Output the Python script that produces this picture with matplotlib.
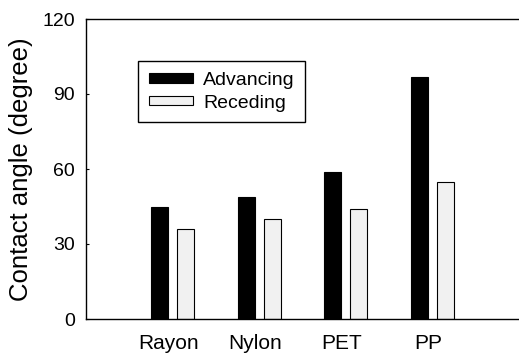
import matplotlib
matplotlib.use("Agg")
import matplotlib.pyplot as plt
import numpy as np

categories = ["Rayon", "Nylon", "PET", "PP"]
advancing = [45, 49, 59, 97]
receding = [36, 40, 44, 55]
yticks = [0, 30, 60, 90, 120]

plt.rcParams['font.family'] = ['Liberation Sans', 'DejaVu Sans']

fig = plt.figure(figsize=(5.19, 3.58), dpi=100)
ax = fig.add_axes([86/519, 39/358, 433/519, 300/358])

x = np.arange(1, len(categories) + 1)
w = 0.2
ax.bar(x - 0.15, advancing, w, color='black', edgecolor='black', linewidth=0.8, label='Advancing')
ax.bar(x + 0.15, receding, w, color='#f1f1f1', edgecolor='black', linewidth=0.8, label='Receding')

ax.set_xlim(0, 5)
ax.set_ylim(0, 120)
ax.set_yticks(yticks)
ax.set_xticks(x - 0.05)
ax.set_xticklabels(categories, fontsize=15)
ax.tick_params(axis='y', direction='in', length=2, labelsize=14, pad=8)
ax.tick_params(axis='x', length=0, pad=11)
ax.set_ylabel("Contact angle (degree)", fontsize=18.5, labelpad=7)

ax.spines['right'].set_visible(False)
for s in ['left', 'top', 'bottom']:
    ax.spines[s].set_linewidth(1.0)

leg = ax.legend(loc='upper left', bbox_to_anchor=(0.12, 0.86), fontsize=14,
                frameon=True, fancybox=False, edgecolor='black', framealpha=1,
                handlelength=2.3, handleheight=0.4, handletextpad=0.5,
                borderpad=0.55, labelspacing=0.3, borderaxespad=0)
leg.get_frame().set_linewidth(1.0)

fig.savefig("out.png", dpi=100)
